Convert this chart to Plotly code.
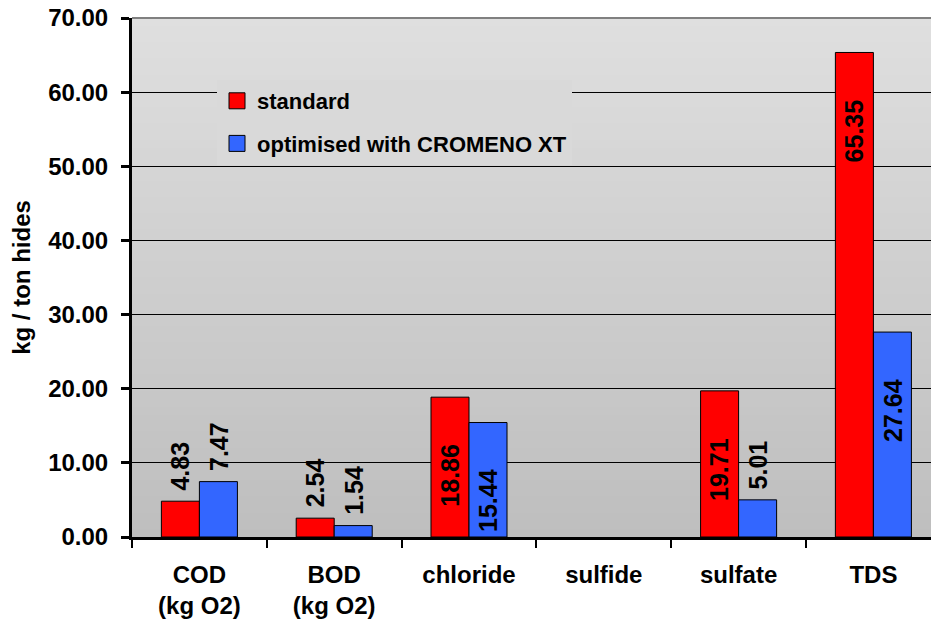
import plotly.graph_objects as go

categories = ["COD<br>(kg O2)", "BOD<br>(kg O2)", "chloride", "sulfide", "sulfate", "TDS"]
standard = [4.83, 2.54, 18.86, None, 19.71, 65.35]
optimised = [7.47, 1.54, 15.44, None, 5.01, 27.64]
series_names = ["standard", "optimised with CROMENO XT"]
series_colors = ["#ff0000", "#3366ff"]

FONT = "Liberation Sans, Arial, sans-serif"
W, H = 931, 628
ML, MT, MB = 132, 18, 91
PLOT_W = W - ML
CAT_PX = 134.8

fig = go.Figure()
for name, vals, col in zip(series_names, [standard, optimised], series_colors):
    fig.add_trace(go.Bar(
        x=categories, y=vals, name=name, showlegend=False,
        marker=dict(color=col, line=dict(color="black", width=1)),
    ))
for name, col in zip(series_names, series_colors):
    fig.add_trace(go.Scatter(
        x=[categories[0]], y=[None], name=name, mode="markers",
        legendgroup=name,
        marker=dict(symbol="square", size=16, color=col, line=dict(color="black", width=1)),
    ))

# data labels
annotations = []
for k, vals in enumerate([standard, optimised]):
    shift = -19 if k == 0 else 19
    for c, v in zip(categories, vals):
        if v is None:
            continue
        inside = v > 10
        annotations.append(dict(
            x=c, y=v, xref="x", yref="y", text=f"{v:.2f}", showarrow=False,
            textangle=-90, xanchor="center", yanchor="middle",
            xshift=shift, yshift=(-78.5 if inside else 35),
            font=dict(family=FONT, size=25, color="black", weight="bold"),
        ))

# gradient background bands
shapes = []
N = 64
top = (223, 223, 223)
bot = (190, 190, 190)
for i in range(N):
    t = (i + 0.5) / N
    c = tuple(round(top[j] + (bot[j] - top[j]) * t) for j in range(3))
    y1 = 1 - i / N
    y0 = 1 - (i + 1) / N - 0.002
    shapes.append(dict(type="rect", xref="paper", yref="paper", x0=0, x1=1,
                       y0=max(0, y0), y1=y1, fillcolor="rgb(%d,%d,%d)" % c,
                       line=dict(width=0), layer="below"))
shapes.append(dict(type="line", xref="paper", yref="paper", x0=0, x1=1, y0=1, y1=1,
                   line=dict(color="#808080", width=2), layer="above"))

fig.update_layout(
    width=W, height=H,
    margin=dict(l=ML, r=0, t=MT, b=MB, pad=0),
    paper_bgcolor="white", plot_bgcolor="#d0d0d0",
    font=dict(family=FONT, size=24, color="black", weight="bold"),
    barmode="group", bargap=0.436, bargroupgap=0,
    showlegend=True,
    legend=dict(x=(217 - ML) / PLOT_W, y=1 - (80 - MT) / (H - MT - MB),
                xanchor="left", yanchor="top",
                bgcolor="#d9d9d9", borderwidth=0,
                font=dict(family=FONT, size=22, color="black", weight="bold"),
                tracegroupgap=11, itemsizing="trace"),
    annotations=annotations,
    shapes=shapes,
    xaxis=dict(
        type="category", range=[-0.5, -0.5 + PLOT_W / CAT_PX],
        tickson="boundaries", ticks="outside", ticklen=8, tickwidth=2, tickcolor="black",
        showline=True, linecolor="black", linewidth=3, showgrid=False,
        tickfont=dict(family=FONT, size=24, color="black", weight="bold"),
        ticklabelstandoff=14,
    ),
    yaxis=dict(
        range=[0, 70], dtick=10, tickformat=".2f",
        ticks="outside", ticklen=8, tickwidth=3, tickcolor="black",
        showline=True, linecolor="black", linewidth=3,
        showgrid=True, gridcolor="black", gridwidth=1, zeroline=False,
        tickfont=dict(family=FONT, size=24, color="black", weight="bold"),
        ticklabelstandoff=8,
        title=dict(text="kg / ton hides", standoff=11,
                   font=dict(family=FONT, size=24, color="black", weight="bold")),
    ),
)

fig.write_html("out.html")
